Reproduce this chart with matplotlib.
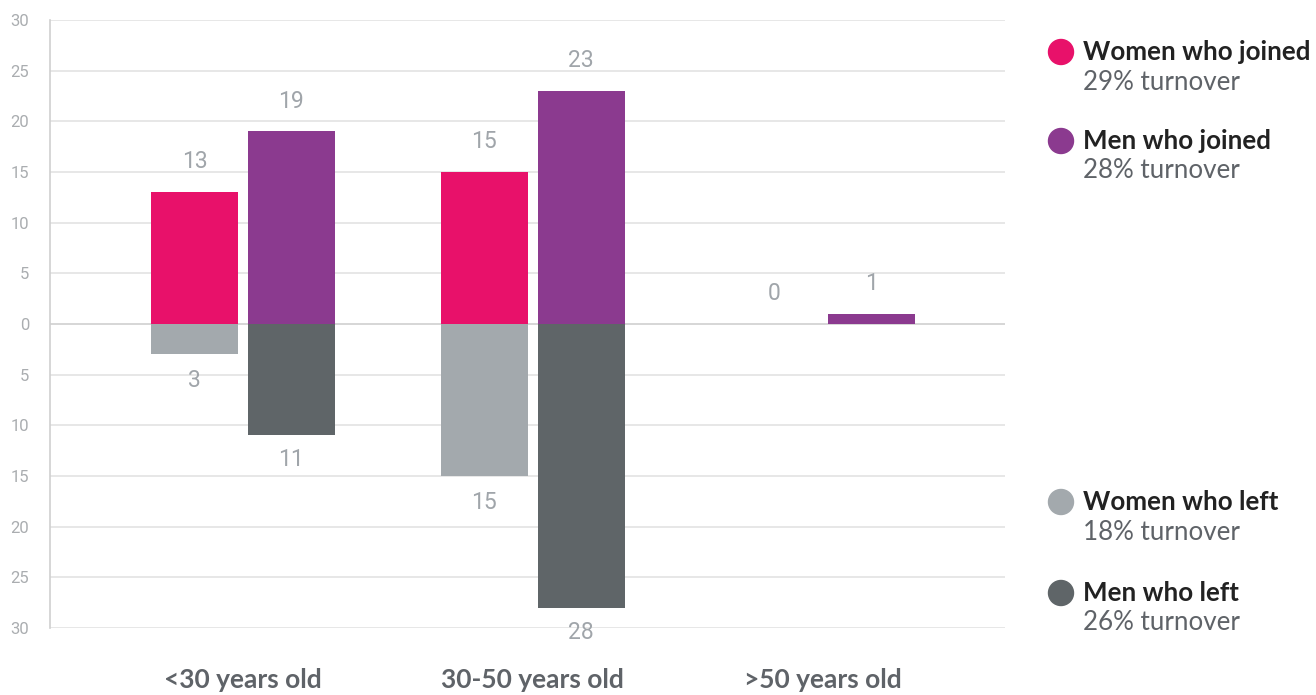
import matplotlib
matplotlib.use("Agg")
import matplotlib.pyplot as plt
import numpy as np
from matplotlib.patches import Ellipse

categories = ["<30 years old", "30-50 years old", ">50 years old"]
women_joined = [13, 15, 0]
men_joined = [19, 23, 1]
women_left = [3, 15, 0]
men_left = [11, 28, 0]
yticks = [30, 25, 20, 15, 10, 5, 0, -5, -10, -15, -20, -25, -30]

legend_titles = ["Women who joined", "Men who joined", "Women who left", "Men who left"]
legend_subs = ["29% turnover", "28% turnover", "18% turnover", "26% turnover"]

c_wj = "#E8116A"
c_mj = "#8B3A8F"
c_wl = "#A3A9AD"
c_ml = "#5F6568"

W, H = 1316, 695
fig = plt.figure(figsize=(W / 100, H / 100), dpi=100)
ax = fig.add_axes([50 / W, 1 - 628 / H, (1005 - 50) / W, (628 - 20) / H])

x = np.arange(len(categories))
off = 0.167
bw = 0.30

ax.bar(x - off, women_joined, bw, color=c_wj, zorder=3)
ax.bar(x + off, men_joined, bw, color=c_mj, zorder=3)
ax.bar(x - off, [-v for v in women_left], bw, color=c_wl, zorder=3)
ax.bar(x + off, [-v for v in men_left], bw, color=c_ml, zorder=3)

vfont = dict(family="Roboto", fontsize=16.5, color="#A0A5AA", ha="center", va="center")
for i in range(len(categories)):
    ax.text(x[i] - off, women_joined[i] + 3.0, str(women_joined[i]), **vfont)
    ax.text(x[i] + off, men_joined[i] + 3.0, str(men_joined[i]), **vfont)
    if women_left[i] or men_left[i]:
        ax.text(x[i] - off, -women_left[i] - 2.6, str(women_left[i]), **vfont)
        ax.text(x[i] + off, -men_left[i] - 2.4, str(men_left[i]), **vfont)

ax.set_xlim(-0.665, 2.628)
ax.set_ylim(-30, 30)
ax.set_yticks(yticks)
ax.set_yticklabels([str(abs(v)) for v in yticks], family="Roboto", fontsize=12, color="#AAADB0")
ax.tick_params(axis="y", length=0, pad=15)
ax.set_xticks(x)
ax.set_xticklabels(categories, family="Lato", fontweight="bold", fontsize=19, color="#5F6368")
ax.tick_params(axis="x", length=0, pad=29)

for v in yticks:
    ax.axhline(v, color="#D0D0D0" if v == 0 else "#E3E3E3", lw=1.2, zorder=1)

for s in ["top", "right", "bottom"]:
    ax.spines[s].set_visible(False)
ax.spines["left"].set_color("#CFCFCF")
ax.spines["left"].set_linewidth(1.2)

leg_colors = [c_wj, c_mj, c_wl, c_ml]
title_y = [52, 141, 502, 593]
for col, t, s, ty in zip(leg_colors, legend_titles, legend_subs, title_y):
    fig.patches.append(Ellipse((1061 / W, 1 - ty / H), 25 / W, 25 / H,
                               transform=fig.transFigure, color=col, zorder=5))
    fig.text(1083 / W, 1 - ty / H, t, family="Lato", fontweight="bold", fontsize=18.7,
             color="#222222", ha="left", va="center")
    fig.text(1083 / W, 1 - (ty + 30) / H, s, family="Lato", fontsize=18.7,
             color="#5F6368", ha="left", va="center")

fig.savefig("out.png", dpi=100)
